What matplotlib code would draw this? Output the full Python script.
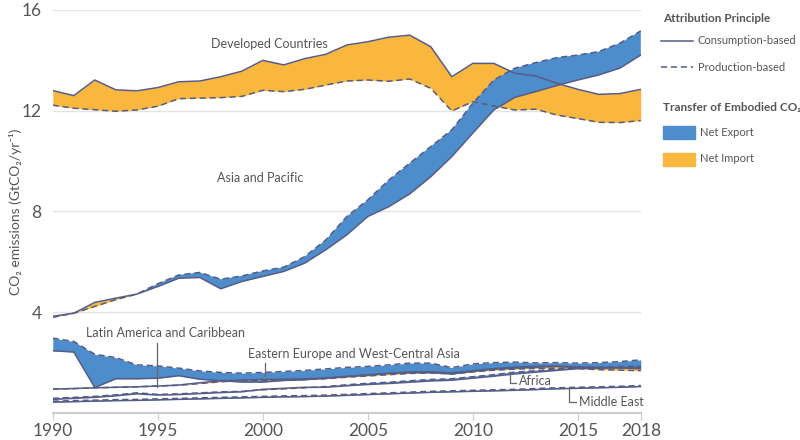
import numpy as np
import matplotlib.pyplot as plt
from matplotlib.lines import Line2D
from matplotlib.patches import Rectangle

plt.rcParams['font.family'] = ['Lato', 'DejaVu Sans']

anos = np.arange(1990, 2019)

# Developed Countries
dev_cons = [12.80, 12.60, 13.22, 12.83, 12.79, 12.92, 13.15, 13.18, 13.35, 13.57,
            14.00, 13.82, 14.07, 14.24, 14.61, 14.74, 14.92, 15.00, 14.54, 13.35,
            13.88, 13.88, 13.49, 13.38, 13.09, 12.85, 12.65, 12.68, 12.85]
dev_prod = [12.22, 12.10, 12.04, 11.98, 12.03, 12.18, 12.48, 12.50, 12.52, 12.57,
            12.81, 12.76, 12.85, 13.02, 13.18, 13.22, 13.17, 13.26, 12.89, 11.99,
            12.36, 12.19, 12.03, 12.06, 11.83, 11.69, 11.54, 11.53, 11.61]

# Asia and Pacific
asia_cons = [3.84, 3.96, 4.39, 4.56, 4.72, 5.02, 5.35, 5.38, 4.93, 5.22,
             5.42, 5.62, 5.95, 6.48, 7.07, 7.80, 8.19, 8.70, 9.38, 10.18,
             11.11, 12.03, 12.53, 12.76, 13.00, 13.22, 13.42, 13.69, 14.21]
asia_prod = [3.80, 3.96, 4.23, 4.50, 4.72, 5.13, 5.48, 5.58, 5.31, 5.44,
             5.64, 5.79, 6.21, 6.87, 7.80, 8.46, 9.25, 9.92, 10.58, 11.24,
             12.30, 13.22, 13.69, 13.91, 14.11, 14.21, 14.35, 14.68, 15.17]

# Eastern Europe and West-Central Asia
ee_cons = [2.47, 2.42, 1.01, 1.36, 1.36, 1.38, 1.48, 1.34, 1.28, 1.23,
           1.23, 1.29, 1.32, 1.38, 1.45, 1.51, 1.58, 1.60, 1.60, 1.55,
           1.65, 1.74, 1.78, 1.82, 1.85, 1.80, 1.80, 1.80, 1.76]
ee_prod = [2.97, 2.84, 2.33, 2.20, 1.91, 1.87, 1.78, 1.67, 1.61, 1.58,
           1.61, 1.65, 1.69, 1.75, 1.81, 1.85, 1.91, 1.98, 1.98, 1.80,
           1.95, 2.00, 2.02, 1.99, 2.00, 1.98, 2.00, 2.04, 2.11]

# Latin America and Caribbean
la_cons = [0.95, 0.97, 1.00, 1.02, 1.04, 1.07, 1.11, 1.20, 1.28, 1.31,
           1.33, 1.34, 1.36, 1.39, 1.45, 1.51, 1.57, 1.63, 1.64, 1.59,
           1.68, 1.76, 1.82, 1.85, 1.86, 1.83, 1.80, 1.79, 1.77]
la_prod = [0.95, 0.97, 1.00, 1.02, 1.04, 1.07, 1.10, 1.17, 1.24, 1.28,
           1.30, 1.31, 1.33, 1.36, 1.42, 1.47, 1.52, 1.57, 1.59, 1.55,
           1.63, 1.70, 1.74, 1.77, 1.78, 1.76, 1.72, 1.70, 1.68]

# Africa
af_cons = [0.54, 0.58, 0.62, 0.68, 0.76, 0.71, 0.73, 0.77, 0.81, 0.84,
           0.94, 0.98, 1.02, 1.02, 1.08, 1.13, 1.17, 1.22, 1.27, 1.30,
           1.38, 1.46, 1.55, 1.62, 1.69, 1.76, 1.78, 1.80, 1.82]
af_prod = [0.58, 0.62, 0.66, 0.72, 0.80, 0.74, 0.76, 0.80, 0.84, 0.86,
           0.92, 0.96, 1.00, 1.05, 1.12, 1.18, 1.22, 1.28, 1.33, 1.36,
           1.44, 1.52, 1.62, 1.68, 1.74, 1.80, 1.82, 1.84, 1.86]

# Middle East
me_cons = [0.43, 0.45, 0.47, 0.49, 0.50, 0.52, 0.54, 0.56, 0.58, 0.60,
           0.62, 0.64, 0.65, 0.67, 0.70, 0.73, 0.76, 0.79, 0.82, 0.84,
           0.86, 0.88, 0.90, 0.93, 0.96, 0.98, 1.00, 1.02, 1.05]
me_prod = [0.47, 0.49, 0.51, 0.53, 0.54, 0.56, 0.58, 0.60, 0.62, 0.64,
           0.66, 0.68, 0.69, 0.71, 0.74, 0.77, 0.80, 0.83, 0.86, 0.88,
           0.90, 0.92, 0.94, 0.97, 1.00, 1.02, 1.04, 1.06, 1.09]

regioes = [(dev_cons, dev_prod), (asia_cons, asia_prod), (ee_cons, ee_prod),
           (la_cons, la_prod), (af_cons, af_prod), (me_cons, me_prod)]

azul = '#4d8dcb'
laranja = '#f9b73e'
linha = '#565c86'
cinza = '#555555'

fig = plt.figure(figsize=(8, 4.4), dpi=100)
ax = fig.add_axes([0.066, 0.0614, 0.735, 0.9159])

for cons, prod in regioes:
    c = np.array(cons)
    p = np.array(prod)
    ax.fill_between(anos, c, p, where=p >= c, interpolate=True, color=azul, lw=0)
    ax.fill_between(anos, c, p, where=c >= p, interpolate=True, color=laranja, lw=0)
for cons, prod in regioes:
    ax.plot(anos, cons, color=linha, lw=1.1)
    ax.plot(anos, prod, color=linha, lw=1.1, ls=(0, (4, 2.5)))

ax.set_xlim(1990, 2018)
ax.set_ylim(0, 16)
ax.set_yticks([4, 8, 12, 16])
ax.set_xticks([1990, 1995, 2000, 2005, 2010, 2015, 2018])
ax.grid(axis='y', color='#e3e3e3', lw=1)
ax.set_axisbelow(True)
for s in ['top', 'right', 'left']:
    ax.spines[s].set_visible(False)
ax.spines['bottom'].set_color('#cccccc')
ax.spines['bottom'].set_linewidth(1.5)
ax.tick_params(axis='y', length=0, labelsize=12.5, labelcolor=cinza, pad=8)
ax.tick_params(axis='x', length=5, color='#cccccc', labelsize=12.5, labelcolor=cinza, pad=2)
ax.set_ylabel('CO₂ emissions (GtCO₂/yr⁻¹)', fontsize=10, color=cinza)
ax.yaxis.set_label_coords(-0.053, 0.5)

# rotulos das regioes
fs = 9
ax.text(2000.33, 14.65, 'Developed Countries', fontsize=fs, color=cinza, ha='center', va='center')
ax.text(1999.86, 9.33, 'Asia and Pacific', fontsize=fs, color=cinza, ha='center', va='center')
ax.text(1991.57, 3.18, 'Latin America and Caribbean', fontsize=fs, color=cinza, va='center')
ax.plot([1994.95, 1994.95], [2.79, 1.04], color='#666666', lw=0.9)
ax.text(1999.29, 2.35, 'Eastern Europe and West-Central Asia', fontsize=fs, color=cinza, va='center')
ax.plot([2000.1, 2000.1], [1.99, 1.48], color='#666666', lw=0.9)
ax.text(2012.19, 1.28, 'Africa', fontsize=fs, color=cinza, va='center')
ax.plot([2011.76, 2011.76, 2012.05], [1.63, 1.20, 1.20], color='#666666', lw=0.9)
ax.text(2015.05, 0.44, 'Middle East', fontsize=fs, color=cinza, va='center')
ax.plot([2014.57, 2014.57, 2014.9], [1.0, 0.44, 0.44], color='#666666', lw=0.9)

# legenda manual
def fy(py):
    return 1 - py / 440

fig.text(663 / 800, fy(18), 'Attribution Principle', fontsize=8.5, fontweight='bold', color=cinza, va='center')
fig.add_artist(Line2D([661 / 800, 693 / 800], [fy(41), fy(41)], color=linha, lw=1.1))
fig.text(698 / 800, fy(41), 'Consumption-based', fontsize=8, color=cinza, va='center')
fig.add_artist(Line2D([661 / 800, 693 / 800], [fy(67), fy(67)], color=linha, lw=1.1, ls=(0, (4, 2.5))))
fig.text(698 / 800, fy(67), 'Production-based', fontsize=8, color=cinza, va='center')
fig.text(663 / 800, fy(108), 'Transfer of Embodied CO₂', fontsize=8.5, fontweight='bold', color=cinza, va='center')
fig.add_artist(Rectangle((663 / 800, fy(139)), 32 / 800, 13 / 440, color=azul))
fig.text(700 / 800, fy(132), 'Net Export', fontsize=8, color=cinza, va='center')
fig.add_artist(Rectangle((663 / 800, fy(166)), 32 / 800, 13 / 440, color=laranja))
fig.text(700 / 800, fy(159), 'Net Import', fontsize=8, color=cinza, va='center')

fig.savefig('out.png', dpi=100)
